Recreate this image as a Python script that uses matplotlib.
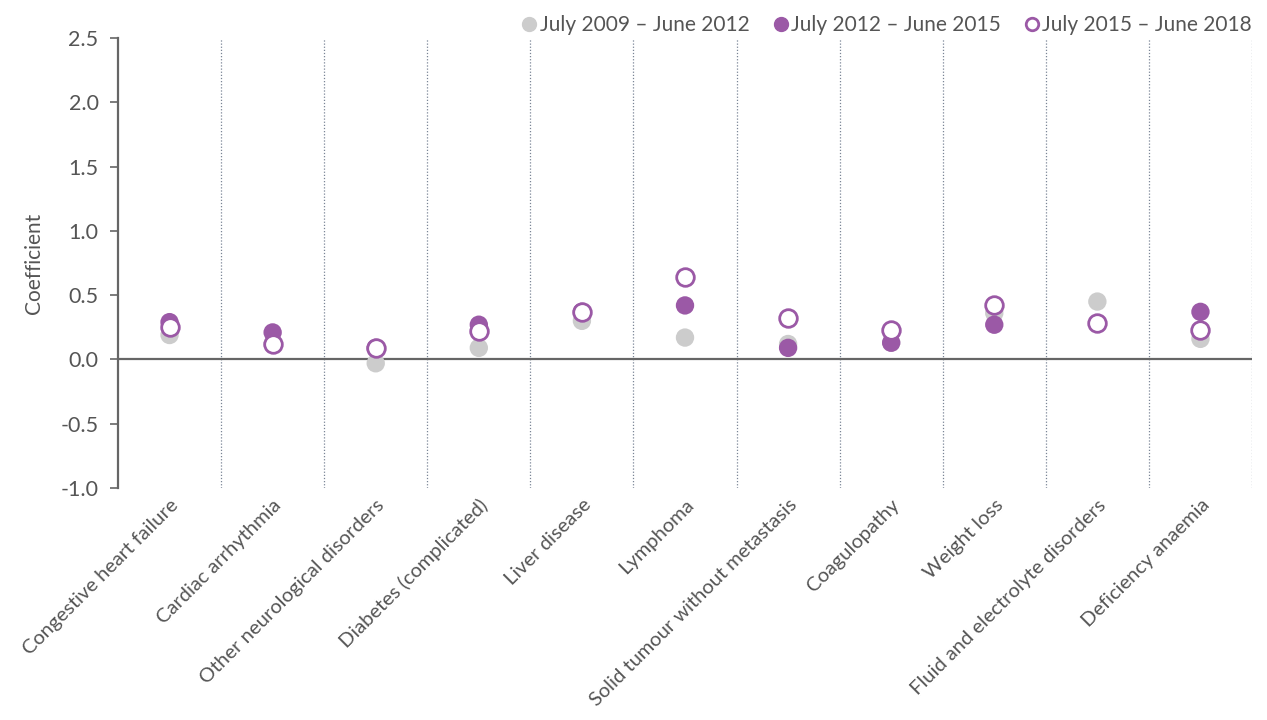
import matplotlib
matplotlib.use("Agg")
import matplotlib.pyplot as plt
from matplotlib.lines import Line2D

categories = ["Congestive heart failure", "Cardiac arrhythmia", "Other neurological disorders",
              "Diabetes (complicated)", "Liver disease", "Lymphoma",
              "Solid tumour without metastasis", "Coagulopathy", "Weight loss",
              "Fluid and electrolyte disorders", "Deficiency anaemia"]
series_names = ["July 2009 \u2013 June 2012", "July 2012 \u2013 June 2015", "July 2015 \u2013 June 2018"]
p2009 = [0.19, 0.12, -0.03, 0.09, 0.30, 0.17, 0.12, 0.13, 0.36, 0.45, 0.16]
p2012 = [0.29, 0.21, 0.09, 0.27, 0.37, 0.42, 0.09, 0.13, 0.27, 0.28, 0.37]
p2015 = [0.25, 0.12, 0.09, 0.22, 0.37, 0.64, 0.32, 0.23, 0.42, 0.28, 0.23]
yticks = [-1.0, -0.5, 0.0, 0.5, 1.0, 1.5, 2.0, 2.5]

grey = "#cccccc"
purple = "#9b59a6"
axis_col = "#666666"
text_col = "#555555"

plt.rcParams['font.family'] = ['Lato', 'DejaVu Sans']

fig = plt.figure(figsize=(12.67, 7.2), dpi=100)
ax = fig.add_axes([118/1267, 1-488/720, (1252-118)/1267, (488-38)/720])

x = list(range(len(categories)))
for i in range(len(categories)):
    ax.axvline(i + 0.5, color="#7a8596", linestyle=(0, (1, 1.5)), linewidth=0.9, zorder=1)
ax.axhline(0, color=axis_col, linewidth=1.6, zorder=2)

ms = 175
ax.scatter(x, p2009, s=ms, color=grey, edgecolors='none', zorder=3)
ax.scatter(x, p2012, s=ms, color=purple, edgecolors='none', zorder=4)
ax.scatter(x, p2015, s=ms*0.92, facecolors='white', edgecolors=purple, linewidths=2.0, zorder=5)

ax.set_xlim(-0.5, len(categories) - 0.5)
ax.set_ylim(-1.0, 2.5)
ax.set_yticks(yticks)
ax.set_yticklabels([f"{v:.1f}" for v in yticks], fontsize=15.5, color=text_col)
ax.set_xticks(x)
ax.set_xticklabels(categories, rotation=45, ha='right', rotation_mode='anchor',
                   fontsize=14.5, color=text_col)
ax.tick_params(axis='x', length=0, pad=6)
ax.tick_params(axis='y', length=6, width=1.2, color=axis_col, pad=8)
for s in ['top', 'right', 'bottom']:
    ax.spines[s].set_visible(False)
ax.spines['left'].set_color(axis_col)
ax.spines['left'].set_linewidth(1.6)
ax.set_ylabel("Coefficient", fontsize=15, color=text_col, labelpad=12)

handles = [
    Line2D([], [], marker='o', linestyle='none', markersize=10, markerfacecolor=grey, markeredgecolor=grey),
    Line2D([], [], marker='o', linestyle='none', markersize=10, markerfacecolor=purple, markeredgecolor=purple),
    Line2D([], [], marker='o', linestyle='none', markersize=9, markerfacecolor='white',
           markeredgecolor=purple, markeredgewidth=2),
]
leg = fig.legend(handles, series_names, loc='upper right', bbox_to_anchor=(1.003, 1.005), ncol=3,
                 frameon=False, fontsize=15, handletextpad=0.0, columnspacing=1.0, handlelength=1.0,
                 labelcolor=text_col)

fig.savefig("out.png", dpi=100)
